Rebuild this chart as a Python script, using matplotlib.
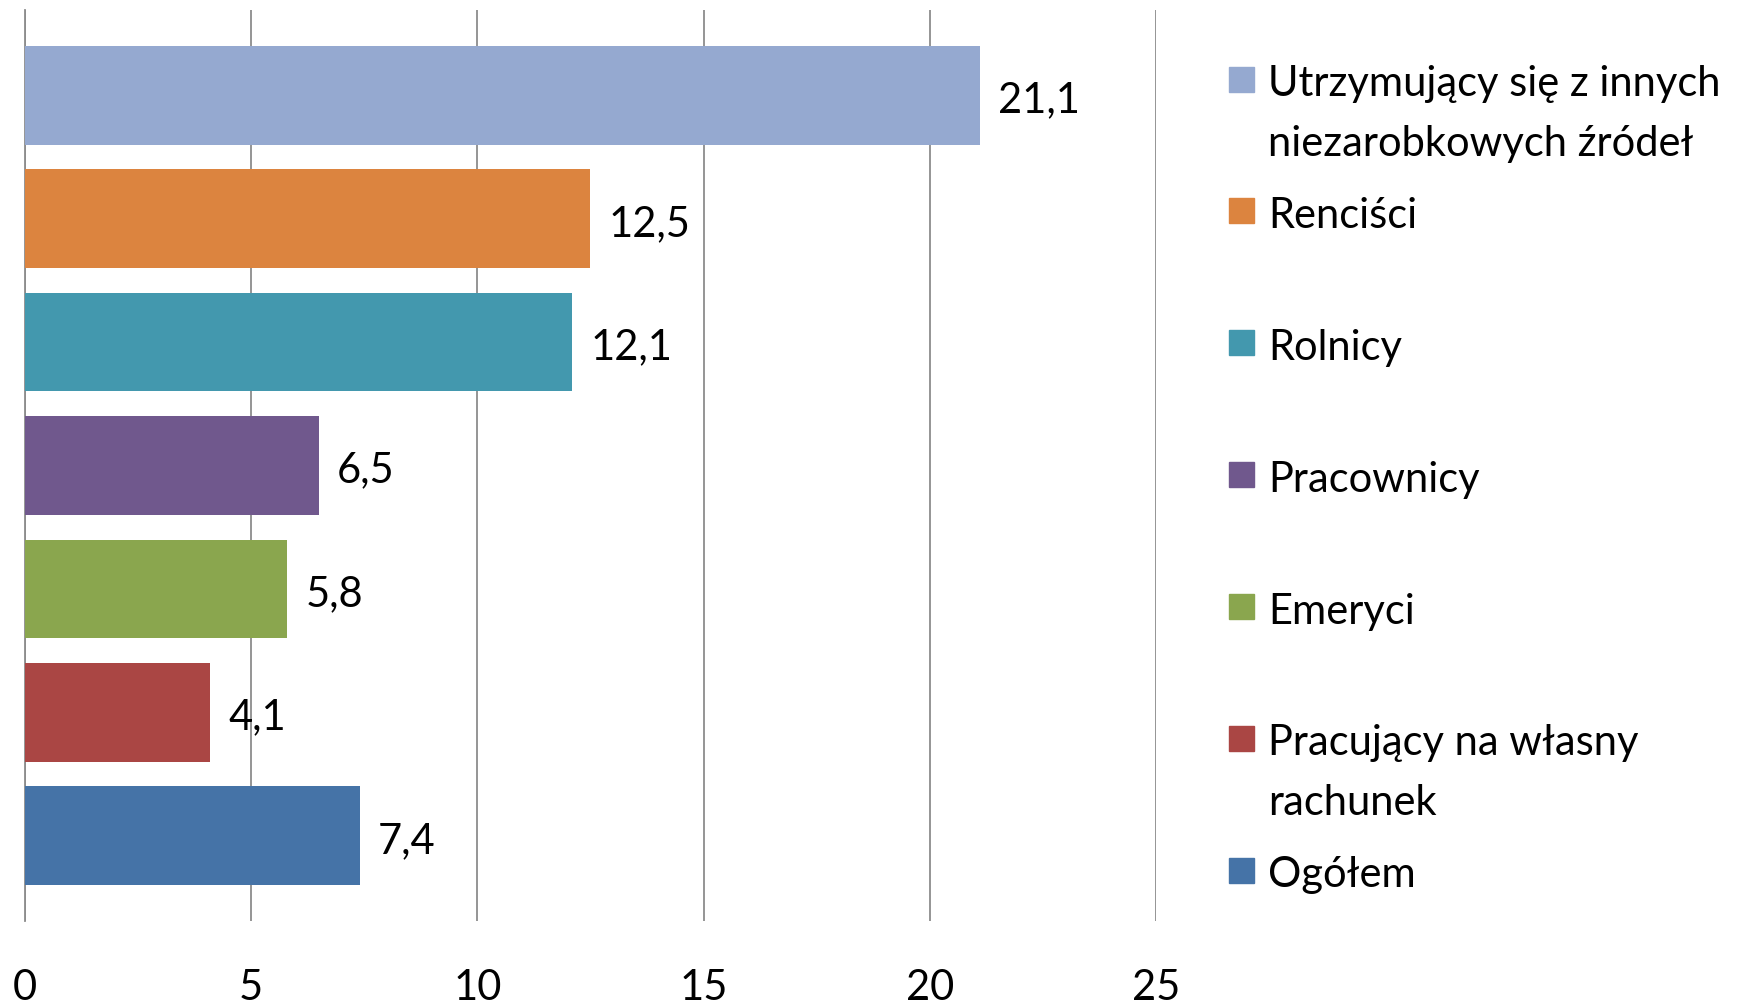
import matplotlib
matplotlib.use("Agg")
import matplotlib.pyplot as plt
from matplotlib.patches import Rectangle

# categories top to bottom, as in the chart
categories = [
    "Utrzymujący się z innych\nniezarobkowych źródeł",
    "Renciści",
    "Rolnicy",
    "Pracownicy",
    "Emeryci",
    "Pracujący na własny\nrachunek",
    "Ogółem",
]
values = [21.1, 12.5, 12.1, 6.5, 5.8, 4.1, 7.4]
colors = ["#95A9D0", "#DC843F", "#4398AE", "#70588D", "#8AA64E", "#AA4644", "#4573A7"]
xticks = [0, 5, 10, 15, 20, 25]

plt.rcParams["font.family"] = ["Lato", "DejaVu Sans"]
FS = 30

fig = plt.figure(figsize=(17.6, 10.04), dpi=100)
ax = fig.add_axes([0.014, 0.0817, 0.643, 0.9073])

ypos = list(range(len(values)))
ax.barh(ypos, values, height=0.8, color=colors, zorder=3)
ax.set_ylim(len(values) - 1 + 0.69, -0.69)
ax.set_xlim(0, 25)

for y, v in zip(ypos, values):
    ax.annotate(f"{v:.1f}".replace(".", ","), xy=(v, y), xytext=(13, -3),
                textcoords="offset points", va="center", ha="left", fontsize=FS)

ax.set_xticks(xticks)
ax.set_xticklabels([str(t) for t in xticks], fontsize=FS)
ax.tick_params(axis="x", length=0, pad=34)
ax.set_yticks([])
ax.grid(axis="x", color="#8C8C8C", linewidth=1.3, zorder=0)
for s in ["top", "right", "bottom"]:
    ax.spines[s].set_visible(False)
ax.spines["left"].set_color("#8C8C8C")
ax.spines["left"].set_linewidth(1.3)

# legend drawn by hand so the swatch sits at the first line of each label
W, H = 1760, 1004
leg_top = 80
leg_step = 131.9
sq = 25
for i, (lab, c) in enumerate(zip(categories, colors)):
    yc = leg_top + i * leg_step
    fig.patches.append(Rectangle((1229 / W, 1 - (yc + sq / 2) / H), sq / W, sq / H,
                                 transform=fig.transFigure, color=c))
    fig.text(1268 / W, 1 - (yc - 15) / H, lab, fontsize=FS, va="top", ha="left",
             linespacing=1.7)

fig.savefig("out.png", dpi=100)
